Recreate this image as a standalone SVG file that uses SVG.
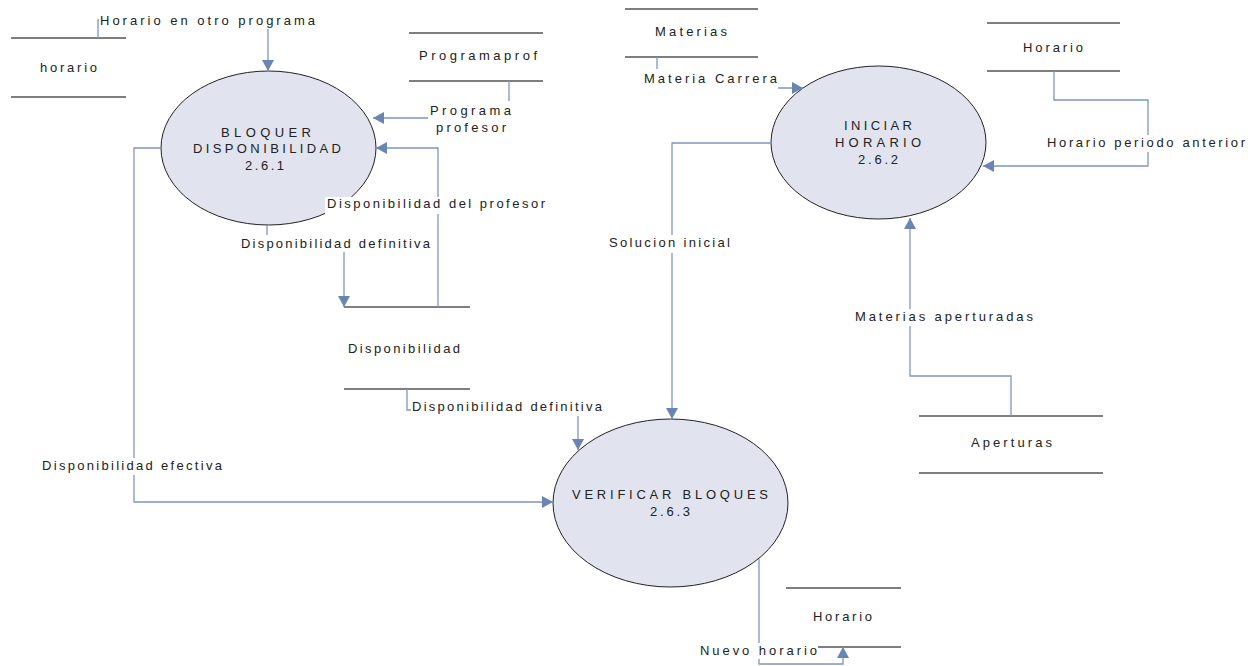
<svg xmlns="http://www.w3.org/2000/svg" width="1257" height="666" viewBox="0 0 1257 666">
<style>
.bg{fill:#ffffff}
.proc ellipse{fill:#e1e4ef;stroke:#222;stroke-width:1}
.store line{stroke:#555;stroke-width:1.3}
.t{font-family:"Liberation Sans",Arial,sans-serif;font-size:13px;fill:#222}
.c{fill:none;stroke:#7f97c3;stroke-width:1.3}
.lb{fill:#ffffff}
</style>
<defs>
<marker id="arr" markerUnits="userSpaceOnUse" markerWidth="12" markerHeight="12" refX="11" refY="6" orient="auto">
<path d="M0,0 L11,6 L0,12 z" fill="#6a84b3"/>
</marker>
</defs>
<rect class="bg" x="0" y="0" width="1257" height="666"/>

<g id="proc-261" class="proc">
<ellipse cx="268.5" cy="148" rx="107.5" ry="77"/>
<text class="t" x="221" y="137" textLength="90" lengthAdjust="spacing">BLOQUER</text>
<text class="t" x="193" y="153" textLength="148" lengthAdjust="spacing">DISPONIBILIDAD</text>
<text class="t" x="245" y="170" textLength="39" lengthAdjust="spacing">2.6.1</text>
</g>

<g id="proc-262" class="proc">
<ellipse cx="878.5" cy="142.5" rx="107.5" ry="76.5"/>
<text class="t" x="844" y="130" textLength="68" lengthAdjust="spacing">INICIAR</text>
<text class="t" x="835" y="147" textLength="86" lengthAdjust="spacing">HORARIO</text>
<text class="t" x="858" y="164" textLength="40" lengthAdjust="spacing">2.6.2</text>
</g>

<g id="proc-263" class="proc">
<ellipse cx="670.5" cy="503" rx="117.5" ry="84"/>
<text class="t" x="572" y="499" textLength="196" lengthAdjust="spacing">VERIFICAR BLOQUES</text>
<text class="t" x="650" y="516" textLength="40" lengthAdjust="spacing">2.6.3</text>
</g>

<g id="store-horario-izq" class="store">
<line x1="11" y1="38" x2="126" y2="38"/>
<line x1="11" y1="97" x2="126" y2="97"/>
<text class="t" x="40" y="72" textLength="57" lengthAdjust="spacing">horario</text>
</g>

<g id="store-programaprof" class="store">
<line x1="409" y1="33" x2="543" y2="33"/>
<line x1="409" y1="81" x2="543" y2="81"/>
<text class="t" x="419" y="60" textLength="118" lengthAdjust="spacing">Programaprof</text>
</g>

<g id="store-disponibilidad" class="store">
<line x1="344" y1="307" x2="470" y2="307"/>
<line x1="344" y1="389" x2="470" y2="389"/>
<text class="t" x="348" y="353" textLength="112" lengthAdjust="spacing">Disponibilidad</text>
</g>

<g id="store-materias" class="store">
<line x1="625" y1="9" x2="758" y2="9"/>
<line x1="625" y1="57" x2="758" y2="57"/>
<text class="t" x="655" y="36" textLength="72" lengthAdjust="spacing">Materias</text>
</g>

<g id="store-horario-der" class="store">
<line x1="987" y1="23" x2="1120" y2="23"/>
<line x1="987" y1="71" x2="1120" y2="71"/>
<text class="t" x="1023" y="52" textLength="60" lengthAdjust="spacing">Horario</text>
</g>

<g id="store-aperturas" class="store">
<line x1="919" y1="416" x2="1103" y2="416"/>
<line x1="919" y1="473" x2="1103" y2="473"/>
<text class="t" x="971" y="447" textLength="81" lengthAdjust="spacing">Aperturas</text>
</g>

<g id="store-horario-nuevo" class="store">
<line x1="786" y1="588" x2="901" y2="588"/>
<line x1="818" y1="647" x2="901" y2="647"/>
<text class="t" x="813" y="621" textLength="59" lengthAdjust="spacing">Horario</text>
</g>

<g id="connectors">
<path class="c" d="M98,38 V20 H268 V71" marker-end="url(#arr)"/>
<path class="c" d="M509,81 V118 H373" marker-end="url(#arr)"/>
<path class="c" d="M438,307 V148 H376" marker-end="url(#arr)"/>
<path class="c" d="M267,225 V243 H344 V307" marker-end="url(#arr)"/>
<path class="c" d="M407,389 V410 H578 V450" marker-end="url(#arr)"/>
<path class="c" d="M161,148 H134 V502 H553" marker-end="url(#arr)"/>
<path class="c" d="M771,143 H672 V419" marker-end="url(#arr)"/>
<path class="c" d="M657,57 V88 H803" marker-end="url(#arr)"/>
<path class="c" d="M1054,71 V100 H1148 V166 H983" marker-end="url(#arr)"/>
<path class="c" d="M1011,416 V376 H910 V218" marker-end="url(#arr)"/>
<path class="c" d="M759,559 V664 H843 V647" marker-end="url(#arr)"/>

<rect class="lb" x="99" y="12" width="218" height="17"/>
<text class="t" x="100" y="25" textLength="215" lengthAdjust="spacing">Horario en otro programa</text>
<rect class="lb" x="428" y="101" width="86" height="34"/>
<text class="t" x="430" y="115" textLength="81" lengthAdjust="spacing">Programa</text>
<text class="t" x="436" y="132" textLength="70" lengthAdjust="spacing">profesor</text>
<rect class="lb" x="325" y="197" width="222" height="17"/>
<text class="t" x="327" y="208" textLength="218" lengthAdjust="spacing">Disponibilidad del profesor</text>
<rect class="lb" x="239" y="235" width="193" height="17"/>
<text class="t" x="241" y="248" textLength="189" lengthAdjust="spacing">Disponibilidad definitiva</text>
<rect class="lb" x="411" y="400" width="193" height="16"/>
<text class="t" x="412" y="411" textLength="190" lengthAdjust="spacing">Disponibilidad definitiva</text>
<rect class="lb" x="40" y="458" width="184" height="17"/>
<text class="t" x="42" y="470" textLength="180" lengthAdjust="spacing">Disponibilidad efectiva</text>
<rect class="lb" x="607" y="235" width="125" height="18"/>
<text class="t" x="609" y="247" textLength="121" lengthAdjust="spacing">Solucion inicial</text>
<rect class="lb" x="642" y="69" width="136" height="22"/>
<text class="t" x="644" y="83" textLength="133" lengthAdjust="spacing">Materia Carrera</text>
<rect class="lb" x="1045" y="135" width="202" height="17"/>
<text class="t" x="1047" y="147" textLength="198" lengthAdjust="spacing">Horario periodo anterior</text>
<rect class="lb" x="853" y="309" width="182" height="17"/>
<text class="t" x="855" y="321" textLength="178" lengthAdjust="spacing">Materias aperturadas</text>
<rect class="lb" x="698" y="643" width="120" height="16"/>
<text class="t" x="700" y="655" textLength="117" lengthAdjust="spacing">Nuevo horario</text>
</g>
</svg>
